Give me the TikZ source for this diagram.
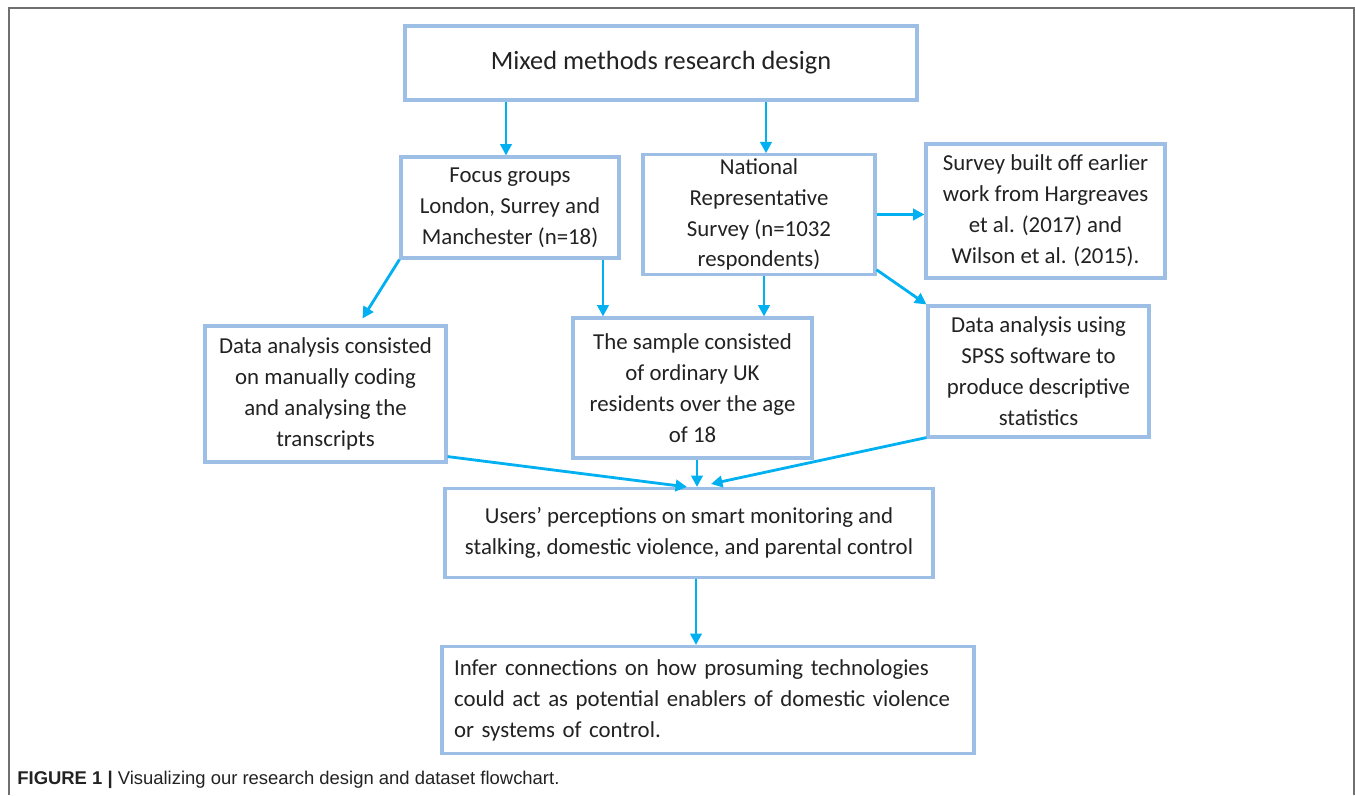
\documentclass[tikz,border=0pt]{standalone}
\usepackage{fontspec}
\setmainfont{Carlito}
\newfontfamily\capfont{Liberation Sans}
\usetikzlibrary{arrows.meta}

\definecolor{boxblue}{RGB}{157,191,229}
\definecolor{arrowblue}{RGB}{0,176,240}
\definecolor{framegray}{RGB}{112,112,112}
\definecolor{inkgray}{RGB}{34,34,34}

\tikzset{
    stagebox/.style={draw=boxblue, line width=1.8pt, fill=white, text=inkgray,
        align=center, inner sep=2pt, font=\fontsize{13}{17.6}\selectfont},
    flowarrow/.style={draw=arrowblue, line width=1.6pt,
        -{Triangle[length=6.5pt, width=6.5pt]}}
}

\begin{document}
\begin{tikzpicture}[x=0.02cm, y=-0.02cm]
        % --- page frame ---
        \useasboundingbox (0,0) rectangle (1355,795);
        \draw[framegray, line width=1.1pt] (9,795) |- (1354,8) -- (1354,795);

        % --- boxes ---
        \node[stagebox, minimum width=10.24cm, minimum height=1.48cm,
              font=\fontsize{15}{18}\selectfont] (design) at (661,63)
            {Mixed methods research design};
        \node[stagebox, minimum width=4.36cm, minimum height=2.02cm] (focus) at (510,207.5)
            {Focus groups\\London, Surrey and\\Manchester (n=18)};
        \node[stagebox, minimum width=4.64cm, minimum height=2.3cm] (survey) at (759,214.5)
            {National\\Representative\\Survey (n=1032\\respondents)};
        \node[stagebox, minimum width=4.78cm, minimum height=2.68cm] (prior) at (1045.5,211)
            {Survey built off earlier\\work from Hargreaves\\et al. (2017) and\\Wilson et al. (2015).};
        \node[stagebox, minimum width=4.82cm, minimum height=2.72cm] (coding) at (325.5,394)
            {Data analysis consisted\\on manually coding\\and analysing the\\transcripts};
        \node[stagebox, minimum width=4.78cm, minimum height=2.8cm] (sample) at (692.5,388)
            {The sample consisted\\of ordinary UK\\residents over the age\\of 18};
        \node[stagebox, minimum width=4.42cm, minimum height=2.62cm] (spss) at (1038.5,371.5)
            {Data analysis using\\SPSS software to\\produce descriptive\\statistics};
        \node[stagebox, minimum width=9.76cm, minimum height=1.78cm] (views) at (689,533)
            {Users’ perceptions on smart monitoring and\\stalking, domestic violence, and parental control};
        \node[stagebox, align=left, text width=10.16cm, inner xsep=0.24cm,
              minimum height=2.14cm] (infer) at (708,700)
            {Infer connections on how prosuming technologies\\could act as potential enablers of domestic violence\\or systems of control.};

        % --- arrows ---
        \draw[flowarrow] ([xshift=-0.08cm]focus.north |- design.south) -- ([xshift=-0.08cm]focus.north);
        \draw[flowarrow] ([xshift=0.14cm]survey.north |- design.south) -- ([xshift=0.14cm]survey.north);
        \draw[flowarrow] (survey.east) -- (survey.east -| prior.west);
        \draw[flowarrow] (focus.south west) -- ([xshift=0.74cm, yshift=0.12cm]coding.north);
        \draw[flowarrow] ([xshift=1.86cm]focus.south) -- ([xshift=1.86cm]focus.south |- sample.north);
        \draw[flowarrow] ([xshift=0.1cm]survey.south) -- ([xshift=0.1cm]survey.south |- sample.north);
        \draw[flowarrow] ([yshift=0.12cm]survey.south east) -- (spss.north west);
        \draw[flowarrow] ([yshift=0.14cm]coding.south east) -- ([xshift=-0.04cm]views.north);
        \draw[flowarrow] ([xshift=0.09cm]sample.south) -- ([xshift=0.09cm]sample.south |- views.north);
        \draw[flowarrow] ([yshift=0.02cm]spss.south west) -- ([xshift=0.44cm, yshift=0.06cm]views.north);
        \draw[flowarrow] ([xshift=0.14cm]views.south) -- ([xshift=0.14cm]views.south |- infer.north);

        % --- caption ---
        \node[anchor=west, inner sep=0, text=inkgray, font=\capfont\fontsize{10.5}{13}\selectfont] (caption) at (17,780)
            {\textbf{FIGURE 1 |} Visualizing our research design and dataset flowchart.};
\end{tikzpicture}
\end{document}
